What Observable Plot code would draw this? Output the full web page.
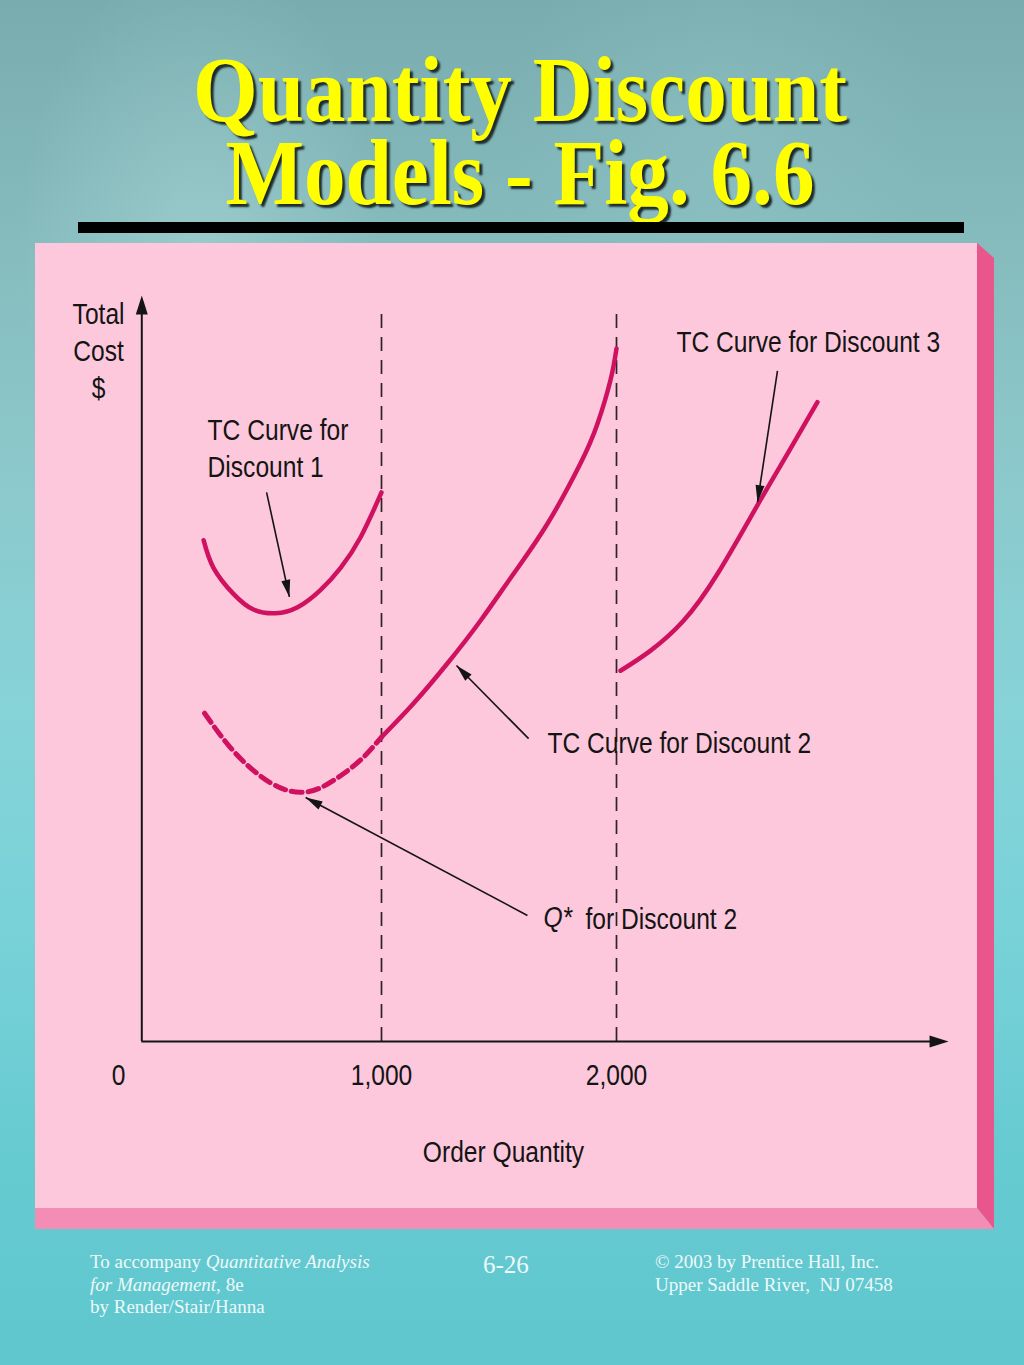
<!DOCTYPE html>
<html>
<head>
<meta charset="utf-8">
<script src="https://cdn.jsdelivr.net/npm/d3@7"></script>
<script src="https://cdn.jsdelivr.net/npm/@observablehq/plot@0.6"></script>
<style>
  html, body { margin: 0; padding: 0; }
  body {
    width: 1024px; height: 1365px; position: relative; overflow: hidden;
    background: linear-gradient(180deg, #78acae 0%, #85babc 16%, #8cc8cb 34%, #86d3d8 52%, #78d2d8 68%, #66cad1 85%, #60c7ce 100%);
  }
  .glow {
    position: absolute; left: 0; top: 0; width: 1024px; height: 700px;
    background: radial-gradient(ellipse 260px 420px at 200px 250px, rgba(190,230,230,0.35), rgba(190,230,230,0) 70%),
                radial-gradient(ellipse 300px 300px at 720px 120px, rgba(160,210,210,0.25), rgba(160,210,210,0) 70%);
  }
  .title {
    position: absolute; left: 8px; top: 53px; width: 1024px; text-align: center;
    font-family: "Liberation Serif", "Times New Roman", serif; font-weight: bold;
    font-size: 88px; line-height: 78px; color: #ffff00;
    text-shadow: 3px 3px 2px #1d2a2a;
    transform: scale(0.945, 1.06); transform-origin: 512px 69px;
    white-space: nowrap;
  }
  .rule { position: absolute; left: 78px; top: 222px; width: 886px; height: 11px; background: #000; }
  .panel { position: absolute; left: 35px; top: 243px; width: 942px; height: 965px; background: #fdc8dc; }
  .edgeR { position: absolute; left: 977px; top: 243px; width: 17px; height: 986px; background: #e9568c;
           clip-path: polygon(0 0, 100% 15px, 100% 100%, 0 965px); }
  .edgeB { position: absolute; left: 35px; top: 1208px; width: 959px; height: 21px; background: #f48db5;
           clip-path: polygon(0 0, 942px 0, 100% 100%, 0 100%); }
  #chart { position: absolute; left: 35px; top: 243px; }
  .foot { position: absolute; font-family: "Liberation Serif", "Times New Roman", serif; color: #eef9f9;
          font-size: 19px; line-height: 22.5px; white-space: nowrap; }
</style>
</head>
<body>
<div class="glow"></div>
<div class="title">Quantity Discount<br>Models - Fig. 6.6</div>
<div class="rule"></div>
<div class="panel"></div>
<div class="edgeR"></div>
<div class="edgeB"></div>
<div id="chart"></div>
<div class="foot" style="left:90px; top:1251px;">To accompany <i>Quantitative Analysis</i><br><i>for Management,</i> 8e<br>by Render/Stair/Hanna</div>
<div class="foot" style="left:483px; top:1254px; font-size:25px;">6-26</div>
<div class="foot" style="left:655px; top:1251px;">© 2003 by Prentice Hall, Inc.<br>Upper Saddle River,&nbsp; NJ 07458</div>
<script>
// ---- Data (order quantity, total cost in arbitrary $ units) ----
const d1Q   = [243, 285, 370, 455, 549, 643, 740, 826, 911, 1000];
const d1TC  = [67.2, 63.5, 60.0, 57.9, 57.4, 58.2, 60.5, 63.5, 67.6, 73.6];

const d2aQ  = [247, 357, 472, 570, 655, 740, 838, 923, 1000];       // infeasible part (dashed)
const d2aTC = [44.0, 39.4, 35.9, 34.0, 33.4, 34.0, 35.9, 38.1, 40.8];

const d2Q   = [1000, 1136, 1281, 1421, 1562, 1706, 1847, 1919, 1974, 2000];
const d2TC  = [40.8, 45.3, 50.7, 56.4, 62.7, 69.4, 77.5, 82.8, 88.6, 92.9];

const d3Q   = [2017, 2145, 2285, 2430, 2600, 2728, 2855];
const d3TC  = [49.7, 52.4, 56.4, 62.7, 71.9, 78.8, 85.7];

const breakQ = [1000, 2000];
const tickQ = [1000, 2000];
const tickLabels = ["1,000", "2,000"];
const zeroLabel = "0";

// annotation labels and their arrows (from label to curve)
const labelText = ["TC Curve for\nDiscount 1", "TC Curve for Discount 3", "TC Curve for Discount 2", "for Discount 2"];
const labelQ    = [260, 2255, 1706, 1868];
const labelTC   = [79.7, 94.0, 40.2, 16.6];
const arrowQ1   = [511, 2685, 1626, 1621];
const arrowTC1  = [73.6, 89.9, 40.6, 16.9];
const arrowQ2   = [608, 2600, 1319, 677];
const arrowTC2  = [59.6, 72.3, 50.4, 32.7];

// ---- Layout ----
const W = 942, H = 965;
const xDomain = [0, 3000], xRange = [111, 816];
const yDomain = [0, 100], yRange = [798, 52];
const axisQ = -20, xAxisEnd = 3413, yAxisEnd = 100, breakTop = 98.3;
const font = "'Liberation Sans', Arial, Helvetica, sans-serif";
const narrow = 0.82;   // horizontal condensing of the label face
const curveColor = "#cf1160";
const ink = "#141414";

const zip = (qs, tcs) => qs.map((q, i) => ({q, tc: tcs[i]}));
const c1 = zip(d1Q, d1TC), c2a = zip(d2aQ, d2aTC), c2 = zip(d2Q, d2TC), c3 = zip(d3Q, d3TC);

const xs = d3.scaleLinear(xDomain, xRange), ys = d3.scaleLinear(yDomain, yRange);
const arrows = arrowQ1.map((q, i) => {
  const dx = xs(arrowQ2[i]) - xs(q), dy = ys(arrowTC2[i]) - ys(arrowTC1[i]);
  return {x1: q, y1: arrowTC1[i], x2: arrowQ2[i], y2: arrowTC2[i], rot: Math.atan2(dx, -dy) * 180 / Math.PI};
});
const labels = labelText.map((t, i) => ({t, q: labelQ[i], tc: labelTC[i]}));
const tickData = tickQ.map((q, i) => ({q, t: tickLabels[i]}));

const textOpts = {fontFamily: font, fontSize: 30, fill: ink, stroke: null};

const chart = Plot.plot({
  width: W, height: H,
  margin: 0,
  style: {background: "transparent", overflow: "visible"},
  x: {domain: xDomain, range: xRange, axis: null},
  y: {domain: yDomain, range: yRange, axis: null},
  marks: [
    // dashed break lines
    Plot.ruleX(breakQ, {y1: 0, y2: breakTop, stroke: "#2e2428", strokeWidth: 1.7, strokeDasharray: "14,9"}),
    // axes
    Plot.ruleY([0], {x1: axisQ, x2: xAxisEnd - 60, stroke: ink, strokeWidth: 2}),
    Plot.ruleX([axisQ], {y1: 0, y2: yAxisEnd - 2, stroke: ink, strokeWidth: 2}),
    Plot.vector([{q: xAxisEnd, tc: 0, r: 90}, {q: axisQ, tc: yAxisEnd, r: 0}],
      {x: "q", y: "tc", rotate: "r", shape: "spike", anchor: "end", length: 19, r: 6, fill: ink, stroke: "none"}),
    // curves
    Plot.line(c1, {x: "q", y: "tc", curve: "natural", stroke: curveColor, strokeWidth: 4.5}),
    Plot.line(c2a, {x: "q", y: "tc", curve: "natural", stroke: curveColor, strokeWidth: 5, strokeDasharray: "11,6"}),
    Plot.line(c2, {x: "q", y: "tc", curve: "natural", stroke: curveColor, strokeWidth: 4.5}),
    Plot.line(c3, {x: "q", y: "tc", curve: "natural", stroke: curveColor, strokeWidth: 4.5}),
    // annotation arrows
    Plot.link(arrows, {x1: "x1", y1: "y1", x2: "x2", y2: "y2", stroke: ink, strokeWidth: 1.6}),
    Plot.vector(arrows, {x: "x2", y: "y2", rotate: "rot", shape: "spike", anchor: "end", length: 17, r: 4.5, fill: ink, stroke: "none"}),
    // labels
    Plot.text(labels, {x: "q", y: "tc", text: "t", textAnchor: "start", lineHeight: 1.23, ...textOpts}),
    Plot.text(["Q*"], {x: labelQ[3] - 179, y: labelTC[3], text: d => d, textAnchor: "start", fontStyle: "italic", ...textOpts}),
    Plot.text(["Total\nCost\n$"], {x: -204, y: 92.8, text: d => d, textAnchor: "middle", lineHeight: 1.23, ...textOpts}),
    // tick labels & axis title
    Plot.text(tickData, {x: "q", y: -4.6, text: "t", textAnchor: "middle", ...textOpts}),
    Plot.text([zeroLabel], {x: 0, y: -4.6, dx: -28, text: d => d, textAnchor: "middle", ...textOpts}),
    Plot.text(["Order Quantity"], {x: 1519, y: -14.9, text: d => d, textAnchor: "middle", ...textOpts})
  ]
});

// condense the label face horizontally (Arial → Arial-Narrow-like proportions)
chart.querySelectorAll("text").forEach(t => {
  const tr = t.getAttribute("transform");
  if (tr) {
    t.setAttribute("transform", `${tr} scale(${narrow},1)`);
  } else {
    const x = +(t.getAttribute("x") || 0), y = +(t.getAttribute("y") || 0);
    t.setAttribute("transform", `translate(${x},${y}) scale(${narrow},1) translate(${-x},${-y})`);
  }
});
document.getElementById("chart").appendChild(chart);
</script>
</body>
</html>
